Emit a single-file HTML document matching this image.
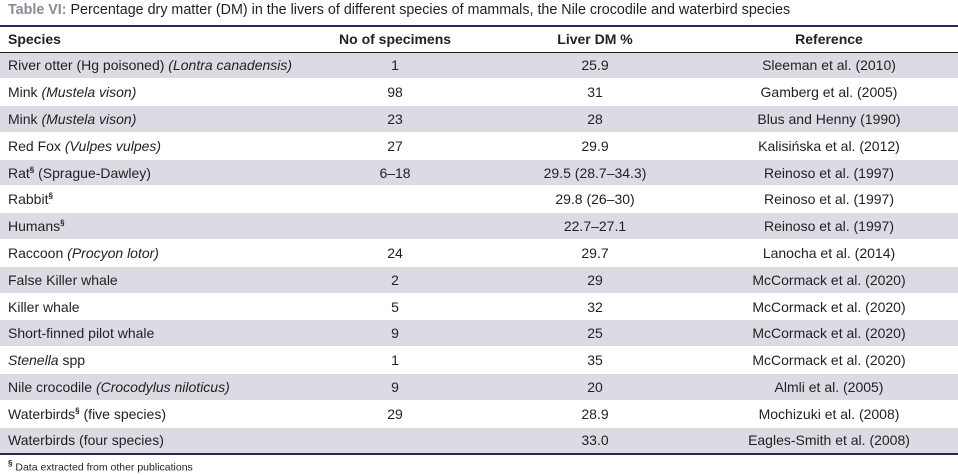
<!DOCTYPE html>
<html><head><meta charset="utf-8"><style>
body{margin:0;width:958px;height:475px;background:#fff;font-family:"Liberation Sans",sans-serif;color:#231f20;overflow:hidden;position:relative}
.title{position:absolute;left:8px;top:2px;font-size:14.3px;white-space:nowrap}
.title b{color:#8a8a96}
table{position:absolute;left:0;top:25px;width:958px;border-collapse:collapse;border-top:2px solid #262a55;border-bottom:2px solid #262a55;font-size:14px}
th,td{height:26.8px;padding:0 8px;box-sizing:border-box;white-space:nowrap}
th{font-weight:bold;text-align:center;height:26px;border-bottom:1px solid #231f20}
th:first-child,td:first-child{text-align:left}
td{text-align:center;border-top:1px solid #fff}
tbody tr:nth-child(odd) td{background:#dcdbe3}
.foot{position:absolute;left:8px;top:459px;font-size:10.5px}
sup{font-size:8px;font-weight:bold}
</style></head><body>
<div class="title"><b>Table VI:</b> Percentage dry matter (DM) in the livers of different species of mammals, the Nile crocodile and waterbird species</div>
<table>
<colgroup><col style="width:300px"><col style="width:190px"><col style="width:210px"><col style="width:258px"></colgroup>
<thead><tr><th>Species</th><th>No of specimens</th><th>Liver DM %</th><th>Reference</th></tr></thead>
<tbody>
<tr><td>River otter (Hg poisoned) <i>(Lontra canadensis)</i></td><td>1</td><td>25.9</td><td>Sleeman et al. (2010)</td></tr>
<tr><td>Mink <i>(Mustela vison)</i></td><td>98</td><td>31</td><td>Gamberg et al. (2005)</td></tr>
<tr><td>Mink <i>(Mustela vison)</i></td><td>23</td><td>28</td><td>Blus and Henny (1990)</td></tr>
<tr><td>Red Fox <i>(Vulpes vulpes)</i></td><td>27</td><td>29.9</td><td>Kalisińska et al. (2012)</td></tr>
<tr><td>Rat<sup>§</sup> (Sprague-Dawley)</td><td>6–18</td><td>29.5 (28.7–34.3)</td><td>Reinoso et al. (1997)</td></tr>
<tr><td>Rabbit<sup>§</sup></td><td></td><td>29.8 (26–30)</td><td>Reinoso et al. (1997)</td></tr>
<tr><td>Humans<sup>§</sup></td><td></td><td>22.7–27.1</td><td>Reinoso et al. (1997)</td></tr>
<tr><td>Raccoon <i>(Procyon lotor)</i></td><td>24</td><td>29.7</td><td>Lanocha et al. (2014)</td></tr>
<tr><td>False Killer whale</td><td>2</td><td>29</td><td>McCormack et al. (2020)</td></tr>
<tr><td>Killer whale</td><td>5</td><td>32</td><td>McCormack et al. (2020)</td></tr>
<tr><td>Short-finned pilot whale</td><td>9</td><td>25</td><td>McCormack et al. (2020)</td></tr>
<tr><td><i>Stenella</i> spp</td><td>1</td><td>35</td><td>McCormack et al. (2020)</td></tr>
<tr><td>Nile crocodile <i>(Crocodylus niloticus)</i></td><td>9</td><td>20</td><td>Almli et al. (2005)</td></tr>
<tr><td>Waterbirds<sup>§</sup> (five species)</td><td>29</td><td>28.9</td><td>Mochizuki et al. (2008)</td></tr>
<tr><td>Waterbirds (four species)</td><td></td><td>33.0</td><td>Eagles-Smith et al. (2008)</td></tr>
</tbody></table>
<div class="foot"><sup>§</sup> Data extracted from other publications</div>
</body></html>
